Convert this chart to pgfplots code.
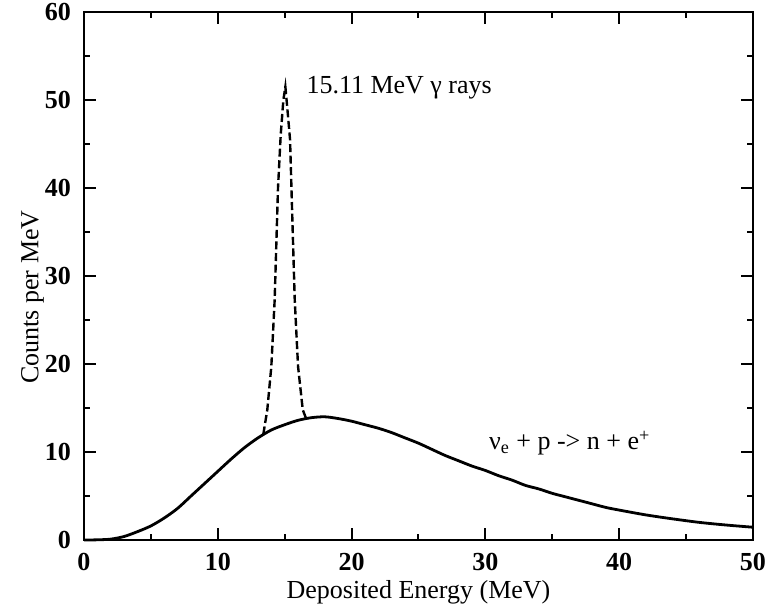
\documentclass[border=0pt]{standalone}
\usepackage{fontspec}
\setmainfont{Liberation Serif}
\usepackage{pgfplots}
\pgfplotsset{compat=1.18}
\begin{document}
\begin{tikzpicture}[font=\fontsize{13}{15}\selectfont]
\useasboundingbox (0,0) rectangle (383pt,305pt);
\begin{axis}[
  at={(42pt,35pt)}, anchor=south west,
  scale only axis, width=334.5pt, height=264pt,
  xmin=0, xmax=50, ymin=0, ymax=60,
  xtick={0,10,20,30,40,50}, ytick={0,10,20,30,40,50,60},
  minor tick num=1,
  major tick length=6pt, minor tick length=3pt,
  tick style={line width=1pt, black},
  axis line style={line width=1.3pt},
  /pgf/number format/assume math mode=true,
  ticklabel style={font=\fontsize{13}{15}\selectfont\bfseries},
  xticklabel style={yshift=-3pt},
  yticklabel style={xshift=-3pt},
  xlabel={Deposited Energy (MeV)},
  ylabel={Counts per MeV},
  xlabel style={at={(axis description cs:0.5,0)}, anchor=center, yshift=-26pt},
  ylabel style={at={(axis description cs:-0.077,0.46)}, anchor=center},
  clip=false,
]
\addplot[black, line width=1.4pt, smooth] coordinates {
(0,0) (1,0.02) (2,0.1) (3,0.4) (4,0.95) (5,1.6) (6,2.5) (7,3.6) (8,5.0) (9,6.4)
(10,7.8) (11,9.2) (12,10.5) (13,11.6) (14,12.5) (15,13.1) (16,13.6) (17,13.9)
(18,14.0) (19,13.8) (20,13.5) (21,13.1) (22,12.7) (23,12.2) (24,11.6) (25,11.0)
(26,10.3) (27,9.6) (28,9.0) (29,8.4) (30,7.9) (31,7.3) (32,6.8) (33,6.2)
(34,5.8) (35,5.3) (36,4.9) (37,4.5) (38,4.1) (39,3.7) (40,3.4) (42,2.85)
(44,2.4) (46,2.0) (48,1.7) (50,1.45)
};
\addplot[black, line width=1.2pt, dash pattern=on 4pt off 1.8pt] coordinates {
(13.4,12.0) (13.7,14.8) (14.0,19.7) (14.1,22.7) (14.25,27.3) (14.5,40) (14.7,46)
(14.9,50) (15.05,51.5) (15.2,49) (15.4,45.5) (15.6,35) (15.75,27.3) (15.9,22.7)
(16.0,19.7) (16.35,14.8) (16.6,13.8)
};
\node[anchor=west, inner sep=0pt] at (axis cs:16.6,51.4) {15.11 MeV γ rays};
\node[anchor=center, inner sep=0pt] at (axis cs:36.3,11) {ν\textsubscript{e} + p -> n + e\textsuperscript{+}};
\end{axis}
\end{tikzpicture}
\end{document}
